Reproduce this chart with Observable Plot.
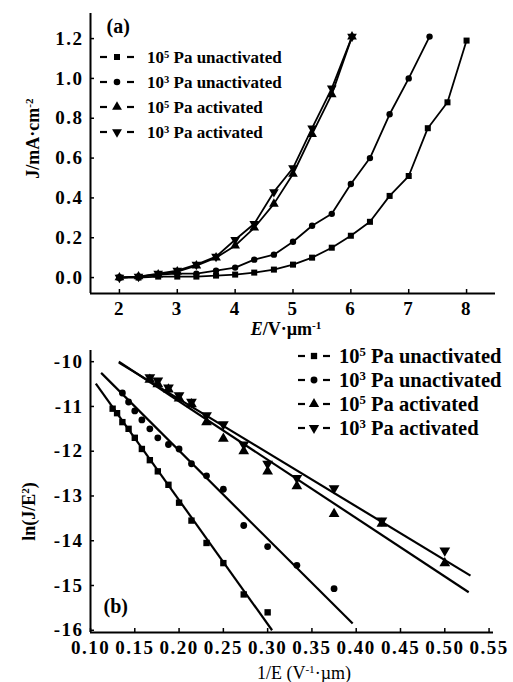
<!DOCTYPE html>
<html><head><meta charset="utf-8">
<script src="https://cdn.jsdelivr.net/npm/d3@7"></script>
<script src="https://cdn.jsdelivr.net/npm/@observablehq/plot@0.6"></script>
<style>
html,body{margin:0;padding:0;background:#fff;}
#wrap{position:relative;width:513px;height:682px;overflow:hidden;background:#fff;}
#wrap svg{position:absolute;left:0;}
</style></head><body><div id="wrap"></div>
<script>
// ---------- data ----------
const seriesNames = ["10^5^ Pa unactivated", "10^3^ Pa unactivated", "10^5^ Pa activated", "10^3^ Pa activated"];

// panel (a): J (mA/cm2) vs E (V/um)
const eUn5 = [2, 2.33, 2.67, 3, 3.33, 3.67, 4, 4.33, 4.67, 5, 5.33, 5.67, 6, 6.33, 6.67, 7, 7.33, 7.67, 8];
const jUn5 = [0, 0, 0.005, 0.005, 0.005, 0.01, 0.015, 0.025, 0.04, 0.065, 0.10, 0.15, 0.21, 0.28, 0.41, 0.51, 0.75, 0.88, 1.19];
const eUn3 = [2, 2.33, 2.67, 3, 3.33, 3.67, 4, 4.33, 4.67, 5, 5.33, 5.67, 6, 6.33, 6.67, 7, 7.36];
const jUn3 = [0, 0.005, 0.015, 0.02, 0.02, 0.035, 0.05, 0.09, 0.115, 0.18, 0.26, 0.32, 0.47, 0.60, 0.82, 1.0, 1.21];
const eAct = [2, 2.33, 2.67, 3, 3.33, 3.67, 4, 4.33, 4.67, 5, 5.33, 5.67, 6.02];
const jAct5 = [0, 0.005, 0.015, 0.03, 0.06, 0.10, 0.16, 0.25, 0.37, 0.52, 0.72, 0.92, 1.21];
const jAct3 = [0, 0.005, 0.02, 0.035, 0.065, 0.105, 0.19, 0.27, 0.43, 0.55, 0.75, 0.95, 1.21];
const xTicksA = [2, 3, 4, 5, 6, 7, 8];
const yTicksA = [0, 0.2, 0.4, 0.6, 0.8, 1.0, 1.2];

// panel (b): ln(J/E^2) vs 1/E
const invUn5 = [0.125, 0.130, 0.136, 0.143, 0.150, 0.158, 0.167, 0.176, 0.188, 0.200, 0.214, 0.231, 0.250, 0.273, 0.300];
const lnUn5 = [-11.05, -11.15, -11.35, -11.5, -11.7, -11.95, -12.2, -12.45, -12.75, -13.15, -13.55, -14.05, -14.5, -15.2, -15.6];
const invUn3 = [0.136, 0.143, 0.150, 0.158, 0.167, 0.176, 0.188, 0.200, 0.214, 0.231, 0.250, 0.273, 0.300, 0.333, 0.375];
const lnUn3 = [-10.7, -10.9, -11.1, -11.3, -11.5, -11.7, -11.85, -11.95, -12.28, -12.55, -12.85, -13.66, -14.13, -14.55, -15.07];
const invAct = [0.167, 0.176, 0.188, 0.200, 0.214, 0.231, 0.250, 0.273, 0.300, 0.333, 0.375, 0.429, 0.500];
const lnAct5 = [-10.4, -10.5, -10.62, -10.82, -10.95, -11.35, -11.72, -12.0, -12.45, -12.78, -13.4, -13.62, -14.5];
const lnAct3 = [-10.35, -10.42, -10.58, -10.75, -10.9, -11.2, -11.4, -11.85, -12.28, -12.6, -12.83, -13.55, -14.22];
// fitted lines (order: 10^5 unact, 10^3 unact, 10^5 act, 10^3 act)
const fitX1 = [0.106, 0.112, 0.132, 0.132];
const fitY1 = [-10.49, -10.25, -10.0, -10.02];
const fitX2 = [0.305, 0.396, 0.527, 0.529];
const fitY2 = [-16.0, -15.85, -15.15, -14.78];
const xTicksB = [0.10, 0.15, 0.20, 0.25, 0.30, 0.35, 0.40, 0.45, 0.50, 0.55];
const yTicksB = [-10, -11, -12, -13, -14, -15, -16];

// ---------- helpers ----------
const FONT = "'Liberation Serif', 'Times New Roman', serif";
function rich(svg) {
  d3.select(svg).selectAll("text").each(function () {
    if (this.querySelector("tspan")) return;
    const t = this.textContent;
    if (!/[\^_]/.test(t)) return;
    const parts = t.split(/(\^[^\^]*\^|_[^_]*_)/);
    this.textContent = "";
    for (const p of parts) {
      if (!p) continue;
      const ts = d3.select(this).append("tspan");
      if (p[0] === "^") ts.text(p.slice(1, -1)).attr("baseline-shift", "super").attr("font-size", "0.62em");
      else if (p[0] === "_") ts.text(p.slice(1, -1)).attr("font-style", "italic");
      else ts.text(p);
    }
  });
}
function spaceTicks(svg) {
  d3.select(svg).selectAll('g[aria-label="x-axis tick label"], g[aria-label="y-axis tick label"]')
    .attr("letter-spacing", "1.5px");
}
const symTypes = [d3.symbolSquare, d3.symbolCircle, d3.symbolTriangle, d3.symbolTriangle];
const symRot = [0, 0, 0, 180];
const symSize = [36, 34, 42, 42];
function legend(svg, c) {
  const g = d3.select(svg).append("g").attr("font-family", FONT).attr("font-weight", "bold")
    .attr("text-anchor", "start");
  seriesNames.forEach((name, i) => {
    const y = c.y0 + i * c.dy;
    g.append("line").attr("x1", c.x0).attr("x2", c.x0 + c.dash).attr("y1", y).attr("y2", y)
      .attr("stroke", "#000").attr("stroke-width", 2.2);
    g.append("line").attr("x1", c.x1 - c.dash).attr("x2", c.x1).attr("y1", y).attr("y2", y)
      .attr("stroke", "#000").attr("stroke-width", 2.2);
    g.append("path").attr("d", d3.symbol().type(symTypes[i]).size(symSize[i] * c.ms)())
      .attr("transform", `translate(${(c.x0 + c.x1) / 2},${y}) rotate(${symRot[i]})`).attr("fill", "#000");
    g.append("text").attr("x", c.xt).attr("y", y).attr("dy", "0.35em").attr("text-anchor", "start")
      .attr("font-size", c.fs).text(name);
  });
}

const wrap = document.getElementById("wrap");

// ---------- panel (a) ----------
const plotA = Plot.plot({
  width: 513, height: 340,
  marginLeft: 90, marginRight: 18, marginTop: 13, marginBottom: 47,
  x: {domain: [1.5, 8.5], label: null},
  y: {domain: [-0.08, 1.326], label: null},
  style: {fontFamily: FONT, fontSize: "19px", fontWeight: "bold", background: "white", color: "#000", overflow: "visible"},
  marks: [
    Plot.axisX({ticks: xTicksA, tickSize: -4, tickPadding: 12, tickFormat: d => String(d), strokeWidth: 1.5}),
    Plot.axisY({ticks: yTicksA, tickSize: -4, tickPadding: 11, tickFormat: d3.format(".1f"), strokeWidth: 1.5}),
    Plot.ruleX([1.5], {stroke: "#000", strokeWidth: 2}),
    Plot.ruleY([-0.08], {stroke: "#000", strokeWidth: 2}),
    Plot.line(jUn5, {x: eUn5, y: jUn5, stroke: "#000", strokeWidth: 1.8}),
    Plot.line(jUn3, {x: eUn3, y: jUn3, stroke: "#000", strokeWidth: 1.8}),
    Plot.line(jAct5, {x: eAct, y: jAct5, stroke: "#000", strokeWidth: 1.8}),
    Plot.line(jAct3, {x: eAct, y: jAct3, stroke: "#000", strokeWidth: 1.8}),
    Plot.dot(jUn5, {x: eUn5, y: jUn5, symbol: "square", r: 3.4, fill: "#000"}),
    Plot.dot(jUn3, {x: eUn3, y: jUn3, symbol: "circle", r: 3.2, fill: "#000"}),
    Plot.dot(jAct5, {x: eAct, y: jAct5, symbol: "triangle", r: 3.6, fill: "#000"}),
    Plot.dot(jAct3, {x: eAct, y: jAct3, symbol: "triangle", rotate: 180, r: 3.6, fill: "#000"}),
    Plot.text(["(a)"], {frameAnchor: "top-left", textAnchor: "start", lineAnchor: "middle", dx: 16, dy: 13, fontSize: 20}),
    Plot.text(["_E_/V·µm^-1^"], {frameAnchor: "bottom", textAnchor: "middle", lineAnchor: "middle", dx: -7, dy: 36, fontSize: 18}),
    Plot.text(["J/mA·cm^-2^"], {frameAnchor: "left", rotate: -90, textAnchor: "middle", lineAnchor: "middle", dx: -57, dy: -15, fontSize: 18})
  ]
});
plotA.style.top = "0px";
wrap.appendChild(plotA);
rich(plotA); spaceTicks(plotA);
legend(plotA, {x0: 100, x1: 134, dash: 7, xt: 147, y0: 57, dy: 25, fs: 17, ms: 1});
rich(plotA);

// ---------- panel (b) ----------
const plotB = Plot.plot({
  width: 513, height: 342,
  marginLeft: 90, marginRight: 20, marginTop: 10, marginBottom: 50,
  x: {domain: [0.1, 0.555], label: null},
  y: {domain: [-16.05, -9.75], label: null},
  style: {fontFamily: FONT, fontSize: "19px", fontWeight: "bold", background: "white", color: "#000", overflow: "visible"},
  marks: [
    Plot.axisX({ticks: xTicksB, tickSize: -4, tickPadding: 12, tickFormat: d3.format(".2f"), strokeWidth: 1.5}),
    Plot.axisY({ticks: yTicksB, tickSize: -4, tickPadding: 11, tickFormat: d => String(d), strokeWidth: 1.5}),
    Plot.ruleX([0.1], {stroke: "#000", strokeWidth: 2}),
    Plot.ruleY([-16.05], {stroke: "#000", strokeWidth: 2}),
    Plot.link(fitX1, {x1: fitX1, y1: fitY1, x2: fitX2, y2: fitY2, stroke: "#000", strokeWidth: 2.2}),
    Plot.dot(lnUn5, {x: invUn5, y: lnUn5, symbol: "square", r: 3.6, fill: "#000"}),
    Plot.dot(lnUn3, {x: invUn3, y: lnUn3, symbol: "circle", r: 3.4, fill: "#000"}),
    Plot.dot(lnAct5, {x: invAct, y: lnAct5, symbol: "triangle", r: 4, fill: "#000"}),
    Plot.dot(lnAct3, {x: invAct, y: lnAct3, symbol: "triangle", rotate: 180, r: 4, fill: "#000"}),
    Plot.text(["(b)"], {frameAnchor: "bottom-left", textAnchor: "start", lineAnchor: "middle", dx: 13, dy: -26, fontSize: 20}),
    Plot.text(["1/E (V^-1^·µm)"], {frameAnchor: "bottom", textAnchor: "middle", lineAnchor: "middle", dx: 12, dy: 41, fontSize: 18, fontWeight: "normal"}),
    Plot.text(["ln(J/E^2^)"], {frameAnchor: "left", rotate: -90, textAnchor: "middle", lineAnchor: "middle", dx: -61, dy: 20, fontSize: 18})
  ]
});
plotB.style.top = "340px";
wrap.appendChild(plotB);
rich(plotB); spaceTicks(plotB);
legend(plotB, {x0: 298, x1: 330, dash: 7, xt: 339, y0: 16, dy: 24, fs: 20.5, ms: 1.1});
rich(plotB);
</script>
</body></html>
